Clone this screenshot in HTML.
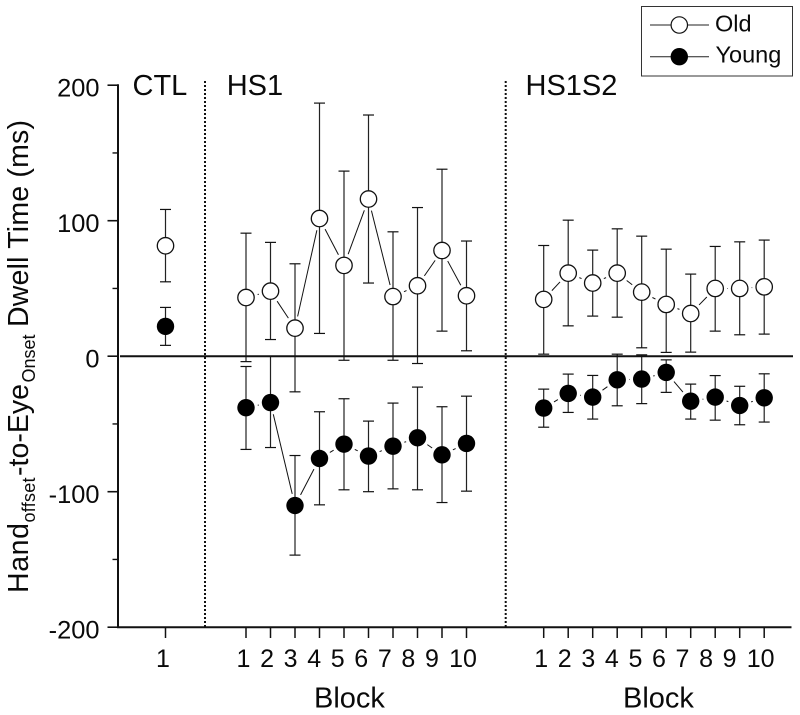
<!DOCTYPE html>
<html lang="en">
<head>
<meta charset="utf-8">
<title>Dwell time chart</title>
<style>
html,body{margin:0;padding:0;background:#fff;}
svg{display:block;}
text{font-family:"Liberation Sans",Arial,sans-serif;fill:#0a0a0a;}
</style>
</head>
<body>
<svg id="chart" xmlns="http://www.w3.org/2000/svg" width="800" height="715" viewBox="0 0 800 715">
  <rect x="0" y="0" width="800" height="715" fill="#fff"/>
  <g id="plot"></g>
  <text x="132.5" y="95" font-size="29">CTL</text>
  <text x="226.7" y="95" font-size="29">HS1</text>
  <text x="525.5" y="95" font-size="29">HS1S2</text>
  <text x="314" y="707.5" font-size="29">Block</text>
  <text x="623" y="707.5" font-size="29">Block</text>
  <g>
    <text transform="translate(28,593) rotate(-90)" font-size="28.5" textLength="70">Hand</text>
    <text transform="translate(35,522.5) rotate(-90)" font-size="18" textLength="45">offset</text>
    <text transform="translate(28,476) rotate(-90)" font-size="28.5" textLength="92">-to-Eye</text>
    <text transform="translate(35,382.5) rotate(-90)" font-size="18" textLength="48">Onset</text>
    <text transform="translate(28,327) rotate(-90)" font-size="28.5" textLength="207">Dwell Time (ms)</text>
  </g>
  <g>
    <rect x="641.5" y="6.5" width="151" height="69.5" fill="#fff" stroke="#333" stroke-width="1"/>
    <line x1="650" y1="25" x2="709" y2="25" stroke="#222" stroke-width="1"/>
    <circle cx="679.3" cy="25" r="8.2" fill="#fff" stroke="#111" stroke-width="1.2"/>
    <text x="715" y="31.5" font-size="23.5">Old</text>
    <line x1="650" y1="56.7" x2="709" y2="56.7" stroke="#222" stroke-width="1"/>
    <circle cx="679.3" cy="56.7" r="8.7" fill="#000"/>
    <text x="715.5" y="62.5" font-size="23.5">Young</text>
  </g>
</svg>
<script>
// ---- data ----
const yTickValues = [200, 100, 0, -100, -200];
const yMinorTickValues = [150, 50, -50, -150];
const blockLabels = ["1","2","3","4","5","6","7","8","9","10"];
const ctlLabels = ["1"];

const oldCtl = [81.5];
const oldCtlHigh = [108.3];
const oldCtlLow = [54.9];
const youngCtl = [22];
const youngCtlHigh = [36];
const youngCtlLow = [8];

const oldHs1 = [43.3, 48, 20.7, 101.6, 67, 116, 44, 52, 78, 44.6];
const oldHs1High = [90.8, 84, 68.2, 186.8, 136.6, 178, 91.8, 109.7, 138, 85];
const oldHs1Low = [-4, 12.3, -26.3, 16.8, -3, 54, -3, -5.4, 18.5, 4];
const youngHs1 = [-38, -34.2, -110.2, -75.5, -64.9, -73.7, -66.4, -60.2, -72.8, -64.4];
const youngHs1High = [-7.6, 0, -73.3, -41, -31.4, -47.9, -34.6, -22.8, -37.3, -29.5];
const youngHs1Low = [-68.8, -67.4, -146.8, -109.7, -98.6, -100, -97.9, -98.6, -108, -99.6];

const oldHs1s2 = [41.9, 61.3, 54, 61.3, 47.3, 38.2, 31.5, 50, 50, 51.2];
const oldHs1s2High = [81.7, 100.4, 78.3, 94, 88.6, 79, 60.6, 81, 84.4, 85.7];
const oldHs1s2Low = [1.5, 22.4, 29.6, 28.8, 6.2, 2.8, 3, 18.5, 15.8, 16.3];
const youngHs1s2 = [-38.3, -27.5, -30.2, -17.4, -16.9, -12, -33.2, -30.2, -36.4, -30.7];
const youngHs1s2High = [-24.3, -13.2, -14.2, 1.5, 1, -2.7, -20.6, -14.3, -22.2, -13];
const youngHs1s2Low = [-52.4, -41.5, -46.4, -36.6, -35, -26.7, -46.4, -47.2, -50.6, -48.6];

// ---- axis functions ----
const NS = "http://www.w3.org/2000/svg";
const plot = document.getElementById("plot");
function yScale(v){ return 356.2 - v * 1.355; }
function xCtl(i){ return 165.5 + i * 24.5; }
function xHs1(i){ return 246 + i * 24.5; }
function xHs1s2(i){ return 543.7 + i * 24.5; }
function labelX(base, i, last){ return i === last ? base + i * 24.5 - 3.5 : base + i * 23.55 - 2.5; }

function make(tag, attrs, parent){
  const el = document.createElementNS(NS, tag);
  for (const k in attrs) el.setAttribute(k, attrs[k]);
  (parent || plot).appendChild(el);
  return el;
}

// ---- dividers ----
[205, 505.7].forEach(function(x){
  const d = make("line", {x1:x, y1:81, x2:x, y2:627, stroke:"#111", "stroke-width":2, "stroke-dasharray":"2 2"});
  
  
});

// ---- axes ----
const yAxis = make("line", {x1:118, y1:84.2, x2:118, y2:628, stroke:"#111", "stroke-width":2});


const xAxis = make("line", {x1:117, y1:627.3, x2:791.5, y2:627.3, stroke:"#111", "stroke-width":2});



yTickValues.forEach(function(v){
  const t = make("line", {x1:107.5, y1:yScale(v), x2:118, y2:yScale(v), stroke:"#111", "stroke-width":1.6});
  
  
  const l = make("text", {x:99.5, y:yScale(v) + 11.3, "text-anchor":"end", "font-size":25.4});
  
  
  l.textContent = v;
});
yMinorTickValues.forEach(function(v){
  const t = make("line", {x1:112.5, y1:yScale(v), x2:118, y2:yScale(v), stroke:"#111", "stroke-width":1.4});
  
  
});

function xTicks(labels, xf, labelBase){
  labels.forEach(function(lab, i){
    const t = make("line", {x1:xf(i), y1:627, x2:xf(i), y2:638, stroke:"#111", "stroke-width":1.5});
    
    
    const l = make("text", {x:labelX(labelBase, i, 9), y:667, "text-anchor":"middle", "font-size":25});
    
    
    l.textContent = lab;
  });
}
xTicks(ctlLabels, xCtl, 165.5);
xTicks(blockLabels, xHs1, 246);
xTicks(blockLabels, xHs1s2, 543.7);

// ---- series ----
function series(vals, highs, lows, xf, filled, name){
  const g = make("g", {});
  
  
  vals.forEach(function(v, i){
    const x = xf(i), yh = yScale(highs[i]), yl = yScale(lows[i]);
    const stem = make("line", {x1:x, y1:yh, x2:x, y2:yl, stroke:"#222", "stroke-width":1.2}, g);
    
    
    [yh, yl].forEach(function(cy){
      const cap = make("line", {x1:x - 5.5, y1:cy, x2:x + 5.5, y2:cy, stroke:"#111", "stroke-width":1.2}, g);
      
      
    });
  });
  for (let i = 0; i < vals.length - 1; i++){
    const x1 = xf(i), x2 = xf(i + 1), y1 = yScale(vals[i]), y2 = yScale(vals[i + 1]);
    const d = Math.hypot(x2 - x1, y2 - y1), gap = 12;
    if (d > 2 * gap){
      const ux = (x2 - x1) / d, uy = (y2 - y1) / d;
      const seg = make("line", {x1:x1 + ux * gap, y1:y1 + uy * gap, x2:x2 - ux * gap, y2:y2 - uy * gap, stroke:"#111", "stroke-width":1}, g);
      
      
    }
  }
  vals.forEach(function(v, i){
    const attrs = filled
      ? {cx:xf(i), cy:yScale(v), r:8.7, fill:"#000"}
      : {cx:xf(i), cy:yScale(v), r:8.2, fill:"#fff", stroke:"#111", "stroke-width":1.3};
    const c = make("circle", attrs, g);
    
    
  });
}
series(oldCtl, oldCtlHigh, oldCtlLow, xCtl, false, "series-old-ctl");
series(youngCtl, youngCtlHigh, youngCtlLow, xCtl, true, "series-young-ctl");
series(oldHs1, oldHs1High, oldHs1Low, xHs1, false, "series-old-hs1");
series(youngHs1, youngHs1High, youngHs1Low, xHs1, true, "series-young-hs1");
series(oldHs1s2, oldHs1s2High, oldHs1s2Low, xHs1s2, false, "series-old-hs1s2");
series(youngHs1s2, youngHs1s2High, youngHs1s2Low, xHs1s2, true, "series-young-hs1s2");

// ---- zero reference line ----
const zero = make("line", {x1:120, y1:yScale(0), x2:793, y2:yScale(0), stroke:"#111", "stroke-width":2});


</script>
</body>
</html>
